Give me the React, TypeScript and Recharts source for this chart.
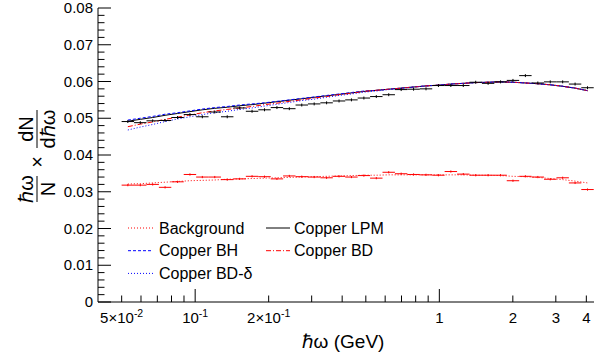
import { ComposedChart, XAxis, YAxis, Line, Scatter, ErrorBar, Customized } from 'recharts';

const FONT = '"Liberation Sans", Arial, Helvetica, sans-serif';

// bin centres (GeV), bins are equal width in log10
const binCenters = [0.0530, 0.0596, 0.0670, 0.0753, 0.0847, 0.0952, 0.1070, 0.1203, 0.1353, 0.1521, 0.1710, 0.1923, 0.2162, 0.2430, 0.2733, 0.3072, 0.3454, 0.3884, 0.4366, 0.4909, 0.5519, 0.6205, 0.6977, 0.7844, 0.8819, 0.9915, 1.1148, 1.2533, 1.4091, 1.5843, 1.7812, 2.0026, 2.2515, 2.5314, 2.8461, 3.1999, 3.5976, 4.0448];
const BIN_HALF = 1.0604; // ratio centre -> bin edge

const copperData = [0.0491, 0.0488, 0.0493, 0.0494, 0.0502, 0.0510, 0.0504, 0.0517, 0.0504, 0.0528, 0.0519, 0.0523, 0.0529, 0.0526, 0.0536, 0.0539, 0.0542, 0.0547, 0.0550, 0.0555, 0.0559, 0.0564, 0.0578, 0.0579, 0.0580, 0.0589, 0.0589, 0.0589, 0.0598, 0.0595, 0.0599, 0.0603, 0.0616, 0.0596, 0.0599, 0.0599, 0.0593, 0.0583];
const backgroundData = [0.0318, 0.0318, 0.0320, 0.0312, 0.0327, 0.0347, 0.0340, 0.0340, 0.0333, 0.0335, 0.0342, 0.0341, 0.0335, 0.0343, 0.0341, 0.0340, 0.0338, 0.0342, 0.0340, 0.0344, 0.0337, 0.0353, 0.0349, 0.0347, 0.0346, 0.0345, 0.0355, 0.0348, 0.0345, 0.0345, 0.0345, 0.0330, 0.0342, 0.0340, 0.0334, 0.0338, 0.0324, 0.0306];
const DATA_ERR = 0.0004;
const BG_ERR = 0.0003;

const backgroundLine = [0.0321, 0.0322, 0.0324, 0.0326, 0.0328, 0.0330, 0.0331, 0.0332, 0.0334, 0.0335, 0.0336, 0.0337, 0.0338, 0.0339, 0.0340, 0.0341, 0.0342, 0.0343, 0.0344, 0.0345, 0.0345, 0.0346, 0.0346, 0.0346, 0.0346, 0.0346, 0.0346, 0.0346, 0.0345, 0.0345, 0.0344, 0.0342, 0.0341, 0.0339, 0.0336, 0.0333, 0.0329, 0.0324];
const copperLPM = [0.0492, 0.0497, 0.0502, 0.0508, 0.0513, 0.0518, 0.0523, 0.0527, 0.0530, 0.0534, 0.0537, 0.0541, 0.0545, 0.0549, 0.0553, 0.0557, 0.0561, 0.0565, 0.0569, 0.0573, 0.0576, 0.0579, 0.0582, 0.0585, 0.0588, 0.0590, 0.0593, 0.0595, 0.0597, 0.0598, 0.0599, 0.0598, 0.0596, 0.0594, 0.0591, 0.0587, 0.0582, 0.0575];
const copperBH = [0.0495, 0.0500, 0.0505, 0.0511, 0.0515, 0.0520, 0.0525, 0.0529, 0.0532, 0.0536, 0.0539, 0.0542, 0.0546, 0.0550, 0.0554, 0.0558, 0.0562, 0.0566, 0.0570, 0.0574, 0.0576, 0.0579, 0.0582, 0.0585, 0.0588, 0.0590, 0.0593, 0.0595, 0.0597, 0.0598, 0.0599, 0.0598, 0.0596, 0.0594, 0.0591, 0.0587, 0.0582, 0.0575];
const copperBD = [0.0477, 0.0484, 0.0490, 0.0497, 0.0503, 0.0509, 0.0515, 0.0520, 0.0524, 0.0528, 0.0532, 0.0537, 0.0541, 0.0546, 0.0550, 0.0555, 0.0559, 0.0564, 0.0568, 0.0573, 0.0576, 0.0579, 0.0582, 0.0585, 0.0588, 0.0590, 0.0593, 0.0595, 0.0597, 0.0598, 0.0599, 0.0598, 0.0596, 0.0594, 0.0591, 0.0587, 0.0582, 0.0575];
const copperBDdelta = [0.0468, 0.0476, 0.0483, 0.0491, 0.0498, 0.0504, 0.0510, 0.0515, 0.0519, 0.0524, 0.0528, 0.0533, 0.0538, 0.0543, 0.0548, 0.0552, 0.0557, 0.0562, 0.0566, 0.0571, 0.0574, 0.0578, 0.0581, 0.0585, 0.0588, 0.0590, 0.0593, 0.0595, 0.0597, 0.0598, 0.0599, 0.0598, 0.0596, 0.0594, 0.0591, 0.0587, 0.0582, 0.0575];

const xTicks = [0.05, 0.06, 0.07, 0.08, 0.09, 0.1, 0.2, 0.3, 0.4, 0.5, 0.6, 0.7, 0.8, 0.9, 1, 2, 3, 4];
const xMajor = [0.1, 1];
const xLabels: Record<string, [string, string]> = {
  '0.05': ['5×10', '-2'],
  '0.1': ['10', '-1'],
  '0.2': ['2×10', '-1'],
  '1': ['1', ''],
  '2': ['2', ''],
  '3': ['3', ''],
  '4': ['4', ''],
};
const yMajor = [0, 0.01, 0.02, 0.03, 0.04, 0.05, 0.06, 0.07, 0.08];
const yLabels = ['0', '0.01', '0.02', '0.03', '0.04', '0.05', '0.06', '0.07', '0.08'];
const yTicks = yMajor.flatMap((v, i) =>
  i === yMajor.length - 1 ? [v] : [0, 1, 2, 3, 4].map((k) => +(v + k * 0.002).toFixed(4))
);

const rows = binCenters.map((x, i) => ({
  x,
  ex: [x - x / BIN_HALF, x * BIN_HALF - x],
  data: copperData[i],
  bg: backgroundData[i],
  eyData: DATA_ERR,
  eyBg: BG_ERR,
  bgLine: backgroundLine[i],
  lpm: copperLPM[i],
  bh: copperBH[i],
  bd: copperBD[i],
  bdd: copperBDdelta[i],
}));

const isMajorY = (v: number) => Math.abs(v * 100 - Math.round(v * 100)) < 1e-6;

const BottomTick = ({ x, y, payload }: any) => {
  const v = payload.value;
  const len = xMajor.includes(v) ? 13 : 6.5;
  const lab = xLabels[String(v)];
  return (
    <g>
      <line x1={x} y1={y} x2={x} y2={y - len} stroke="#000" />
      {lab && (
        <text x={x} y={y + 21} textAnchor="middle" fontSize={15} fontFamily={FONT} fill="#000">
          {lab[0]}
          {lab[1] && <tspan dy={-6} fontSize={10.5}>{lab[1]}</tspan>}
        </text>
      )}
    </g>
  );
};

const TopTick = ({ x, y, payload }: any) => {
  const len = xMajor.includes(payload.value) ? 13 : 6.5;
  return <line x1={x} y1={y} x2={x} y2={y + len} stroke="#000" />;
};

const LeftTick = ({ x, y, payload }: any) => {
  const v = payload.value;
  const major = isMajorY(v);
  const idx = yMajor.findIndex((m) => Math.abs(m - v) < 1e-6);
  return (
    <g>
      <line x1={x} y1={y} x2={x + (major ? 13 : 6.5)} y2={y} stroke="#000" />
      {major && idx >= 0 && (
        <text x={x - 5} y={y + 5} textAnchor="end" fontSize={15} fontFamily={FONT} fill="#000">
          {yLabels[idx]}
        </text>
      )}
    </g>
  );
};

const RightTick = ({ x, y, payload }: any) => {
  const len = isMajorY(payload.value) ? 13 : 6.5;
  return <line x1={x} y1={y} x2={x - len} y2={y} stroke="#000" />;
};

const NoMarker = () => <g />;

const legendLeft = [
  { name: 'Background', stroke: '#ff0000', dash: '1 2' },
  { name: 'Copper BH', stroke: '#0000ff', dash: '3 2' },
  { name: 'Copper BD-δ', stroke: '#0000ff', dash: '1 2' },
];
const legendRight = [
  { name: 'Copper LPM', stroke: '#000000', dash: undefined },
  { name: 'Copper BD', stroke: '#ff0000', dash: '5 2 1 2' },
];

const Overlay = () => (
  <g fontFamily={FONT} fill="#000">
    {legendLeft.map((e, i) => (
      <g key={e.name}>
        <line x1={128} x2={153} y1={228 + i * 22.7} y2={228 + i * 22.7} stroke={e.stroke} strokeDasharray={e.dash} />
        <text x={159} y={233.5 + i * 22.7} fontSize={16}>{e.name}</text>
      </g>
    ))}
    {legendRight.map((e, i) => (
      <g key={e.name}>
        <line x1={266} x2={290} y1={228 + i * 22.7} y2={228 + i * 22.7} stroke={e.stroke} strokeDasharray={e.dash} />
        <text x={294} y={233.5 + i * 22.7} fontSize={16}>{e.name}</text>
      </g>
    ))}
    <text x={343} y={348} textAnchor="middle" fontSize={19}>ℏω (GeV)</text>
    <g transform="translate(37,160) rotate(-90)" fontSize={20}>
      <text x={31} y={-4} textAnchor="middle">dN</text>
      <line x1={12} x2={50} y1={0} y2={0} stroke="#000" />
      <text x={31} y={18} textAnchor="middle">dℏω</text>
      <text x={-2} y={7} textAnchor="middle">×</text>
      <text x={-29} y={-4} textAnchor="middle">ℏω</text>
      <line x1={-42} x2={-16} y1={0} y2={0} stroke="#000" />
      <text x={-29} y={18} textAnchor="middle">N</text>
    </g>
  </g>
);

export default function App() {
  return (
    <div style={{ position: 'absolute', left: 0, top: 0, width: 610, height: 354, background: '#fff' }}>
      <ComposedChart width={610} height={354} data={rows} margin={{ top: 8, right: 16, bottom: 0, left: 0 }}>
        <XAxis
          dataKey="x"
          type="number"
          scale="log"
          domain={[0.04, 4.3]}
          allowDataOverflow
          ticks={xTicks}
          interval={0}
          tick={BottomTick}
          tickLine={false}
          tickSize={0}
          tickMargin={0}
          height={52}
          axisLine={{ stroke: '#000' }}
        />
        <XAxis
          xAxisId="top"
          dataKey="x"
          orientation="top"
          type="number"
          scale="log"
          domain={[0.04, 4.3]}
          allowDataOverflow
          ticks={xTicks}
          interval={0}
          tick={TopTick}
          tickLine={false}
          tickSize={0}
          tickMargin={0}
          height={0}
          axisLine={{ stroke: '#000' }}
        />
        <YAxis
          type="number"
          domain={[0, 0.08]}
          allowDataOverflow
          ticks={yTicks}
          interval={0}
          tick={LeftTick}
          tickLine={false}
          tickSize={0}
          tickMargin={0}
          width={98}
          axisLine={{ stroke: '#000' }}
        />
        <YAxis
          yAxisId="right"
          orientation="right"
          type="number"
          domain={[0, 0.08]}
          allowDataOverflow
          ticks={yTicks}
          interval={0}
          tick={RightTick}
          tickLine={false}
          tickSize={0}
          tickMargin={0}
          width={0}
          axisLine={{ stroke: '#000' }}
        />
        <Line dataKey="bgLine" stroke="#ff0000" strokeDasharray="1 2" dot={false} isAnimationActive={false} />
        <Line dataKey="lpm" stroke="#000000" dot={false} isAnimationActive={false} />
        <Line dataKey="bh" stroke="#0000ff" strokeDasharray="3 2" dot={false} isAnimationActive={false} />
        <Line dataKey="bd" stroke="#ff0000" strokeDasharray="5 2 1 2" dot={false} isAnimationActive={false} />
        <Line dataKey="bdd" stroke="#0000ff" strokeDasharray="1 2" dot={false} isAnimationActive={false} />
        <Scatter dataKey="bg" shape={NoMarker} isAnimationActive={false}>
          <ErrorBar dataKey="ex" direction="x" width={0} stroke="#ff0000" strokeWidth={1} />
          <ErrorBar dataKey="eyBg" direction="y" width={0} stroke="#ff0000" strokeWidth={1} />
        </Scatter>
        <Scatter dataKey="data" shape={NoMarker} isAnimationActive={false}>
          <ErrorBar dataKey="ex" direction="x" width={0} stroke="#000000" strokeWidth={1} />
          <ErrorBar dataKey="eyData" direction="y" width={0} stroke="#000000" strokeWidth={1} />
        </Scatter>
        <Customized component={Overlay} />
      </ComposedChart>
    </div>
  );
}
